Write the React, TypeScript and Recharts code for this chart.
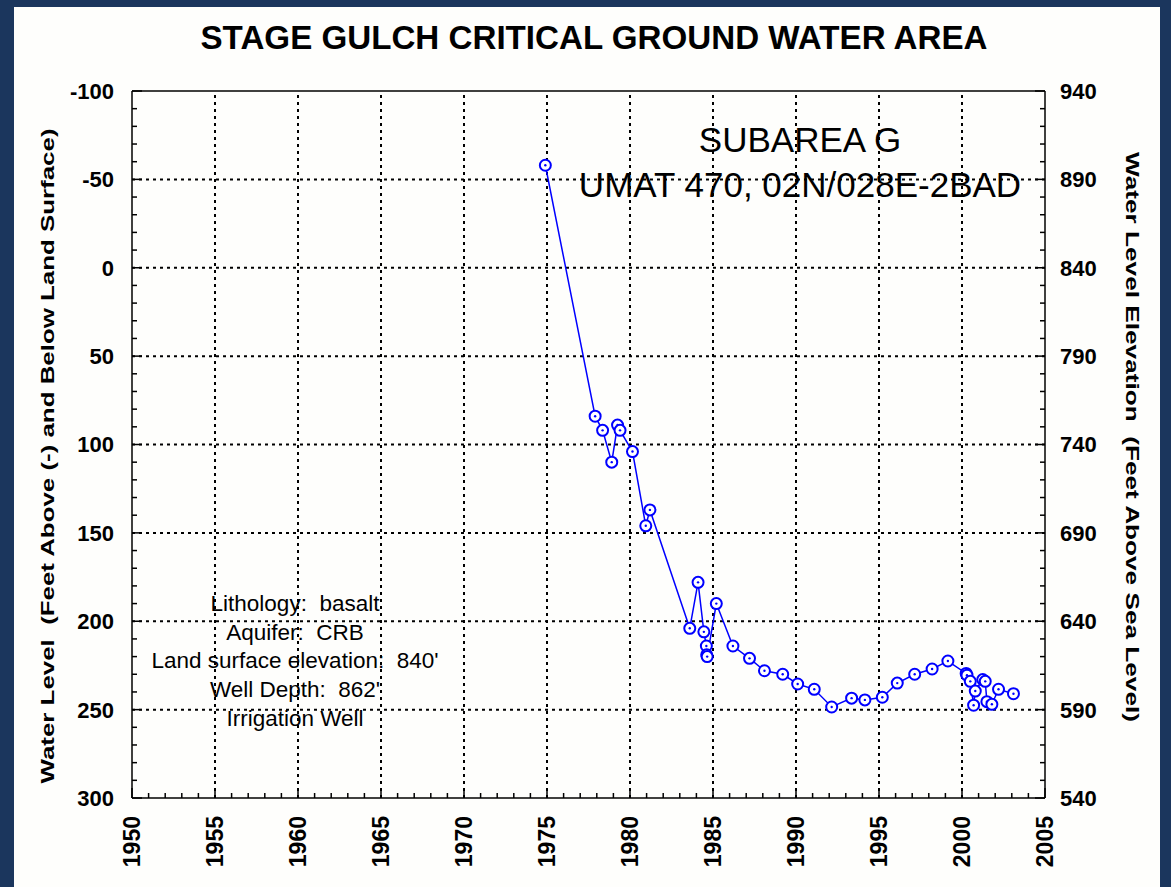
import React from 'react';
import { LineChart, Line, XAxis, YAxis, ReferenceLine } from 'recharts';

// measurement dates (decimal year) and depth to water (ft below land surface)
const years = [
  1974.9, 1977.9, 1978.35, 1978.9, 1979.25, 1979.4, 1980.15, 1980.95, 1981.2,
  1983.6, 1984.1, 1984.45, 1984.6, 1984.62, 1984.65, 1985.2, 1986.2, 1987.2,
  1988.1, 1989.2, 1990.1, 1991.1, 1992.15, 1993.35, 1994.15, 1995.2, 1996.1,
  1997.15, 1998.2, 1999.15, 2000.25, 2000.3, 2000.5, 2000.7, 2000.8, 2001.25,
  2001.4, 2001.5, 2001.8, 2002.2, 2003.1,
];
const depths = [
  -58, 84, 92, 110, 89, 92, 104, 146, 137,
  204, 178, 206, 214, 219, 220, 190, 214, 221,
  228, 230, 235.5, 238.5, 248.5, 243.5, 244.5, 243, 235,
  230, 227, 222.5, 229.5, 230.5, 234, 247.5, 239.5, 233,
  234, 245.5, 247, 238.5, 241,
];

const yearLabels = [1950, 1955, 1960, 1965, 1970, 1975, 1980, 1985, 1990, 1995, 2000, 2005];
const depthLabels = [-100, -50, 0, 50, 100, 150, 200, 250, 300];
const elevLabels = [940, 890, 840, 790, 740, 690, 640, 590, 540];

const infoLines = [
  'Lithology:  basalt',
  'Aquifer:  CRB',
  "Land surface elevation:  840'",
  "Well Depth:  862'",
  'Irrigation Well',
];

const data = years.map((year, i) => ({ year, depth: depths[i] }));

const range = (a: number, b: number, step: number) => {
  const out: number[] = [];
  for (let v = a; v <= b; v += step) out.push(v);
  return out;
};
const yearTicks = range(1950, 2005, 1);
const depthTicks = range(-100, 300, 10);
const elevTicks = range(540, 940, 10);

const FONT = '"Liberation Sans", Arial, sans-serif';
const MAJOR = 10;
const MINOR = 5;

const BottomTick = (props: any) => {
  const { x, y, payload } = props;
  const major = yearLabels.includes(payload.value);
  return (
    <g>
      <line x1={x} x2={x} y1={y} y2={y - (major ? MAJOR : MINOR)} stroke="#000" strokeWidth={1.5} />
      {major && (
        <text
          x={x}
          y={y + 18}
          transform={`rotate(-90 ${x} ${y + 18})`}
          textAnchor="end"
          dy="0.36em"
          fontFamily={FONT}
          fontWeight="bold"
          fontSize={23}
          fill="#000"
        >
          {payload.value}
        </text>
      )}
    </g>
  );
};

const TopTick = (props: any) => {
  const { x, y, payload } = props;
  const major = yearLabels.includes(payload.value);
  return <line x1={x} x2={x} y1={y} y2={y + (major ? MAJOR : MINOR)} stroke="#000" strokeWidth={1.5} />;
};

const LeftTick = (props: any) => {
  const { x, y, payload } = props;
  const major = depthLabels.includes(payload.value);
  return (
    <g>
      <line x1={x} x2={x + (major ? MAJOR : MINOR)} y1={y} y2={y} stroke="#000" strokeWidth={1.5} />
      {major && (
        <text x={x - 18} y={y} dy="0.36em" textAnchor="end" fontFamily={FONT} fontWeight="bold" fontSize={22} fill="#000">
          {payload.value}
        </text>
      )}
    </g>
  );
};

const RightTick = (props: any) => {
  const { x, y, payload } = props;
  const major = elevLabels.includes(payload.value);
  return (
    <g>
      <line x1={x} x2={x - (major ? MAJOR : MINOR)} y1={y} y2={y} stroke="#000" strokeWidth={1.5} />
      {major && (
        <text x={x + 15} y={y} dy="0.36em" textAnchor="start" fontFamily={FONT} fontWeight="bold" fontSize={22} fill="#000">
          {payload.value}
        </text>
      )}
    </g>
  );
};

const RingDot = (props: any) => {
  const { cx, cy, index } = props;
  return (
    <g key={`dot-${index}`}>
      <circle cx={cx} cy={cy} r={5.5} fill="#fff" stroke="#0000ff" strokeWidth={2} />
      <circle cx={cx} cy={cy} r={1.2} fill="#0000ff" />
    </g>
  );
};

const axisLine = { stroke: '#000', strokeWidth: 1.5 };

export default function App() {
  return (
    <div style={{ position: 'absolute', left: 0, top: 0, width: 1171, height: 887, background: '#1b365d', overflow: 'hidden' }}>
      <div style={{ position: 'absolute', left: 14, top: 7, width: 1146, height: 880, background: '#fefefc' }} />
      <div style={{ position: 'absolute', left: 0, top: 0 }}>
        <LineChart width={1171} height={887} data={data} margin={{ top: 90, right: 56, bottom: 9, left: 62 }}>
          <XAxis
            xAxisId="bottom"
            dataKey="year"
            type="number"
            domain={[1950, 2005]}
            allowDataOverflow
            ticks={yearTicks}
            interval={0}
            height={80}
            tickSize={0}
            tickMargin={0}
            tickLine={false}
            axisLine={axisLine}
            tick={<BottomTick />}
          />
          <XAxis
            xAxisId="top"
            orientation="top"
            type="number"
            domain={[1950, 2005]}
            allowDataOverflow
            ticks={yearTicks}
            interval={0}
            height={1}
            tickSize={0}
            tickMargin={0}
            tickLine={false}
            axisLine={axisLine}
            tick={<TopTick />}
          />
          <YAxis
            yAxisId="left"
            type="number"
            domain={[-100, 300]}
            reversed
            allowDataOverflow
            ticks={depthTicks}
            interval={0}
            width={70}
            tickSize={0}
            tickMargin={0}
            tickLine={false}
            axisLine={axisLine}
            tick={<LeftTick />}
          />
          <YAxis
            yAxisId="right"
            orientation="right"
            type="number"
            domain={[540, 940]}
            allowDataOverflow
            ticks={elevTicks}
            interval={0}
            width={70}
            tickSize={0}
            tickMargin={0}
            tickLine={false}
            axisLine={axisLine}
            tick={<RightTick />}
          />
          {yearLabels.slice(1, -1).map((v) => (
            <ReferenceLine key={`vx${v}`} xAxisId="bottom" yAxisId="left" x={v} stroke="#000" strokeWidth={2} strokeDasharray="3 4" />
          ))}
          {depthLabels.slice(1, -1).map((v) => (
            <ReferenceLine key={`hy${v}`} xAxisId="bottom" yAxisId="left" y={v} stroke="#000" strokeWidth={2} strokeDasharray="3 4" />
          ))}
          <Line
            xAxisId="bottom"
            yAxisId="left"
            dataKey="depth"
            stroke="#0000ff"
            strokeWidth={1.5}
            dot={RingDot}
            activeDot={false}
            isAnimationActive={false}
          />
        </LineChart>
      </div>
      <svg width={1171} height={887} style={{ position: 'absolute', left: 0, top: 0, pointerEvents: 'none', whiteSpace: 'pre' }}>
        <text x={594} y={49} textAnchor="middle" fontFamily={FONT} fontWeight="bold" fontSize={34} textLength={787} lengthAdjust="spacingAndGlyphs">
          STAGE GULCH CRITICAL GROUND WATER AREA
        </text>
        <text x={800} y={152} textAnchor="middle" fontFamily={FONT} fontSize={35}>
          SUBAREA G
        </text>
        <text x={800} y={197} textAnchor="middle" fontFamily={FONT} fontSize={35}>
          UMAT 470, 02N/028E-2BAD
        </text>
        {infoLines.map((t, i) => (
          <text key={t} x={295} y={611 + i * 28.7} textAnchor="middle" fontFamily={FONT} fontSize={22.5} xmlSpace="preserve">
            {t}
          </text>
        ))}
        <text
          x={47}
          y={456}
          transform="rotate(-90 47 456)"
          textAnchor="middle"
          dy="0.36em"
          fontFamily={FONT}
          fontWeight="bold"
          fontSize={19}
          textLength={655}
          lengthAdjust="spacingAndGlyphs"
          xmlSpace="preserve"
        >
          Water Level  (Feet Above (-) and Below Land Surface)
        </text>
        <text
          x={1133}
          y={437}
          transform="rotate(90 1133 437)"
          textAnchor="middle"
          dy="0.36em"
          fontFamily={FONT}
          fontWeight="bold"
          fontSize={19}
          textLength={570}
          lengthAdjust="spacingAndGlyphs"
          xmlSpace="preserve"
        >
          Water Level Elevation  (Feet Above Sea Level)
        </text>
      </svg>
    </div>
  );
}
